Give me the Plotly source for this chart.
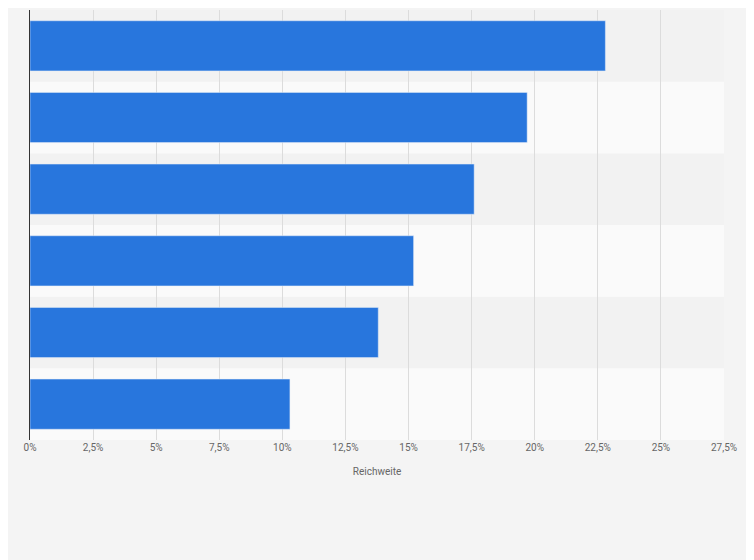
import plotly.graph_objects as go

# Bar labels are not shown in the chart
categories = ["A", "B", "C", "D", "E", "F"]
reach = [22.8, 19.7, 17.6, 15.2, 13.8, 10.3]
tick_vals = [0, 2.5, 5, 7.5, 10, 12.5, 15, 17.5, 20, 22.5, 25, 27.5]
tick_text = ["0%", "2,5%", "5%", "7,5%", "10%", "12,5%", "15%", "17,5%",
             "20%", "22,5%", "25%", "27,5%"]

fig = go.Figure(go.Bar(
    x=reach, y=categories, orientation="h",
    marker_color="#2876dd", width=0.7,
    hovertemplate="%{x}%<extra></extra>",
))

# alternating row bands (index 0 is the bottom row)
n = len(categories)
for i in range(n):
    fig.add_shape(type="rect", xref="paper", yref="y",
                  x0=0, x1=1, y0=i - 0.5, y1=i + 0.5,
                  fillcolor="#f2f2f2" if (n - 1 - i) % 2 == 0 else "#fafafa",
                  line_width=0, layer="below")

fig.update_layout(
    width=754, height=560,
    paper_bgcolor="#f4f4f4", plot_bgcolor="#fafafa",
    margin=dict(l=22, r=38, t=2, b=128),
    showlegend=False,
    font=dict(family="Roboto, Arial, sans-serif", color="#666", size=10),
    xaxis=dict(range=[0, 27.5], tickvals=tick_vals, ticktext=tick_text,
               showgrid=True, gridcolor="#dcdcdc", gridwidth=1,
               zeroline=False, title=dict(text="Reichweite", font=dict(size=10)),
               tickfont=dict(size=10), layer="below traces"),
    yaxis=dict(categoryorder="array", categoryarray=categories[::-1],
               range=[-0.5, 5.5], autorange=False,
               showticklabels=False, showgrid=False, zeroline=False,
               showline=True, linecolor="#333", linewidth=1),
)

fig.write_html("out.html")
